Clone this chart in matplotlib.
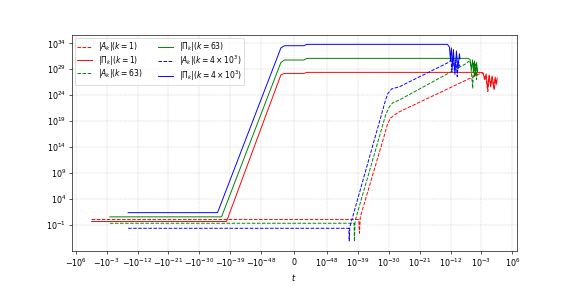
import numpy as np
import matplotlib
matplotlib.use("Agg")
import matplotlib.pyplot as plt
from matplotlib.ticker import FixedLocator, NullLocator

# ---------------- data ----------------
# k = 1
t_A1 = [-23, 1.74e-39, 2.8e-39, 4.8e-39, 5.2e-32, 4.0e-31, 3.2e-30, 4.6e-29, 1.35e-27,
        1.26e-3, 6.0e-3, 3.3e-2, 7.4e-2, 0.18, 0.49, 1.35, 5.2, 14.5, 40]
logA1 = [0.05, 0.05, -2.6, 0.5, 16.3, 18.4, 19.6, 20.2, 20.82,
         28.33, 27.9, 26.5, 24.7, 27.6, 26.0, 27.4, 25.0, 27.1, 26.5]
t_P1 = [-23, -1.15e-38, -1.6e-54, -1.5e-55, 1.7e-55, 1.3e-54,
        7.9e-4, 3.1e-3, 8.5e-3, 2.3e-2, 6.5e-2, 0.18, 0.49, 1.35, 3.7, 10.2, 20, 40]
logP1 = [-0.35, -0.35, 27.9, 28.2, 28.2, 28.4,
         28.4, 28.3, 27.0, 28.1, 25.2, 27.9, 25.6, 27.7, 25.5, 27.5, 26.0, 27.3]

# k = 63
t_A63 = [-1.15e-4, 7.2e-41, 9.5e-41, 1.4e-40, 1.05e-31, 1.0e-30, 1.2e-29, 1.35e-27,
         5.0e-8, 1.7e-7, 6.6e-7, 2.95e-6, 5.0e-6, 9.8e-6, 1.95e-5, 3.8e-5, 7.4e-5]
logA63 = [-0.68, -0.68, -4.2, -0.3, 20.1, 21.6, 22.5, 23.1,
          30.15, 30.5, 30.3, 25.3, 30.2, 27.5, 30.0, 27.0, 29.5]
t_P63 = [-1.15e-4, -3.2e-37, -1.6e-54, -1.5e-55, 1.7e-55, 1.3e-54,
         1.2e-7, 4.7e-7, 1.3e-6, 2.6e-6, 5.0e-6, 9.8e-6, 1.95e-5, 3.8e-5, 7.4e-5]
logP63 = [0.55, 0.55, 30.3, 30.78, 30.78, 31.1,
          31.1, 30.9, 29.0, 30.8, 28.5, 30.6, 27.8, 30.3, 28.5]

# k = 4e3
t_A4k = [-5.6e-10, 2.3e-42, 2.8e-42, 4.3e-42, 1.05e-31, 5.0e-31, 6.3e-30, 1.35e-27,
         6.3e-13, 1.26e-12, 2.45e-12, 4.8e-12, 1.3e-11, 3.6e-11, 8.7e-11, 2.0e-10, 5.5e-10]
logA4k = [-1.65, -1.65, -4.1, -1.4, 23.0, 24.3, 25.2, 25.64,
          30.45, 31.2, 28.5, 31.0, 29.0, 30.8, 27.6, 30.5, 29.5]
t_P4k = [-5.6e-10, -4.7e-36, -1.6e-54, -1.5e-55, 1.7e-55, 1.3e-54,
         1.17e-13, 4.6e-13, 8.9e-13, 1.74e-12, 3.5e-12, 6.8e-12, 1.86e-11, 5.1e-11, 1.4e-10, 3.9e-10, 5.5e-10]
logP4k = [1.36, 1.36, 33.1, 33.54, 33.54, 33.8,
          33.8, 33.3, 31.0, 33.1, 29.5, 32.8, 28.0, 32.5, 29.0, 32.0, 31.0]

labels = [r'$|A_k|(k=1)$', r'$|\Pi_k|(k=1)$', r'$|A_k|(k=63)$',
          r'$|\Pi_k|(k=63)$', r'$|A_k|(k=4\times10^3)$', r'$|\Pi_k|(k=4\times10^3)$']

xticks = [-1e6, -1e-3, -1e-12, -1e-21, -1e-30, -1e-39, -1e-48, 0,
          1e-48, 1e-39, 1e-30, 1e-21, 1e-12, 1e-3, 1e6]
yticks = [1e-1, 1e4, 1e9, 1e14, 1e19, 1e24, 1e29, 1e34]

# ---------------- plot ----------------
fig = plt.figure(figsize=(10, 5), dpi=57.4)
ax = fig.add_axes([0.125, 0.126, 0.775, 0.752])

series = [
    (t_A1, logA1, '#ff0000', '--'),
    (t_P1, logP1, '#ff0000', '-'),
    (t_A63, logA63, '#008000', '--'),
    (t_P63, logP63, '#008000', '-'),
    (t_A4k, logA4k, '#0000ff', '--'),
    (t_P4k, logP4k, '#0000ff', '-'),
]
for (t, ly, c, ls), lab in zip(series, labels):
    ax.plot(t, np.power(10.0, ly), color=c, ls=ls, lw=1.2, label=lab)

ax.set_xscale('symlog', linthresh=3e-57)
ax.set_yscale('log')
ax.set_xlim(-1.5e7, 1.8e7)
ax.set_ylim(10**-6.0, 10**35.6)
ax.xaxis.set_major_locator(FixedLocator(xticks))
ax.xaxis.set_minor_locator(NullLocator())
ax.yaxis.set_major_locator(FixedLocator(yticks))
ax.yaxis.set_minor_locator(NullLocator())
ax.grid(True, color='#cccccc', ls='--', lw=0.6)
ax.set_xlabel(r'$t$')
ax.legend(loc='upper left', ncol=2, fontsize=9.5, labelspacing=0.05,
          borderpad=0.3, handlelength=2.0, borderaxespad=0.4)

fig.savefig('out.png', dpi=57.4)
